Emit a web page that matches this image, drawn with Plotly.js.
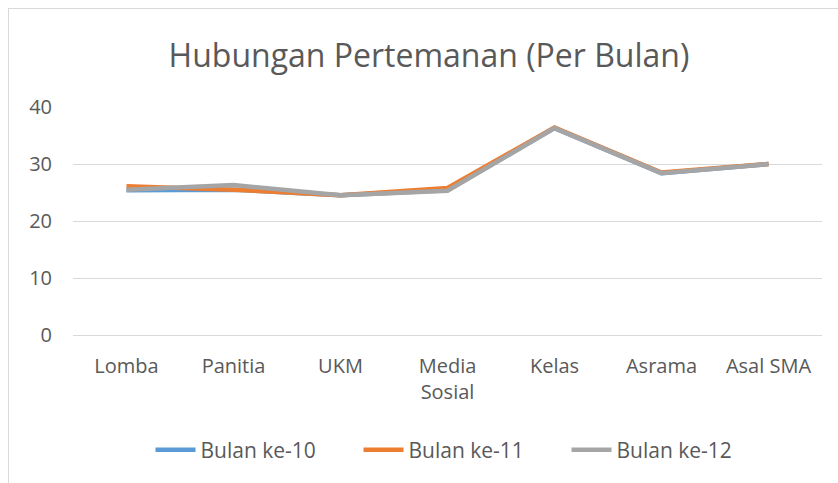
<!DOCTYPE html>
<html>
<head>
<meta charset="utf-8">
<script src="https://cdn.plot.ly/plotly-3.0.1.min.js"></script>
<style>
html,body{margin:0;padding:0;background:#fff;}
#wrap{position:relative;width:838px;height:483px;overflow:hidden;}
#chart{position:absolute;left:0;top:0;width:838px;height:483px;}
#frame{position:absolute;left:8px;top:8px;width:900px;height:600px;border:1px solid #d9d9d9;pointer-events:none;}
</style>
</head>
<body>
<div id="wrap"><div id="chart"></div><div id="frame"></div></div>
<script>
const categories = ["Lomba", "Panitia", "UKM", "Media<br>Sosial", "Kelas", "Asrama", "Asal SMA"];
const bulan10 = [25.4, 25.5, 24.5, 25.4, 36.3, 28.4, 30.0];
const bulan11 = [26.1, 25.5, 24.5, 25.8, 36.4, 28.5, 30.0];
const bulan12 = [25.5, 26.3, 24.5, 25.3, 36.3, 28.4, 30.0];
const seriesNames = ["Bulan ke-10", "Bulan ke-11", "Bulan ke-12"];
const yTicks = [0, 10, 20, 30, 40];

const FONT = "'Open Sans', sans-serif";
const colors = ["#5B9BD5", "#ED7D31", "#A5A5A5"];
const data = [bulan10, bulan11, bulan12].map((vals, i) => ({
  type: "scatter", mode: "lines", x: categories, y: vals, name: seriesNames[i],
  line: {color: colors[i], width: 4.5}, hoverinfo: "skip"
}));

const layout = {
  width: 838, height: 483,
  margin: {l: 73, r: 16, t: 107, b: 146},
  paper_bgcolor: "#fff", plot_bgcolor: "#fff",
  font: {family: FONT, color: "#595959", size: 20},
  title: {text: "Hubungan Pertemanan (Per Bulan)", font: {family: FONT, size: 32, color: "#595959"},
          x: 429/838, xref: "container", xanchor: "center", y: 1 - 56/483, yanchor: "middle", yref: "container"},
  xaxis: {type: "category", range: [-0.5, 6.5], showgrid: false, showline: false, zeroline: false,
          ticks: "", ticklabelstandoff: 17, tickfont: {family: FONT, size: 20, color: "#595959"}, automargin: false},
  yaxis: {range: [0, 40], tickvals: yTicks, ticktext: yTicks.map(String), showgrid: true,
          gridcolor: "#d9d9d9", gridwidth: 1, zeroline: true, zerolinecolor: "#d9d9d9", zerolinewidth: 1,
          showline: false, ticks: "", ticklabelstandoff: 20,
          tickfont: {family: FONT, size: 20, color: "#595959"}, automargin: false},
  showlegend: true,
  legend: {orientation: "h", x: 0.5 + 15/749, xanchor: "center", y: (337 - 453) / 230, yanchor: "middle",
           font: {family: FONT, size: 21, color: "#595959"}, itemwidth: 40, tracegroupgap: 0,
           entrywidth: 153, entrywidthmode: "pixels"},
};
Plotly.newPlot("chart", data, layout, {staticPlot: true, displayModeBar: false});
</script>
</body>
</html>
